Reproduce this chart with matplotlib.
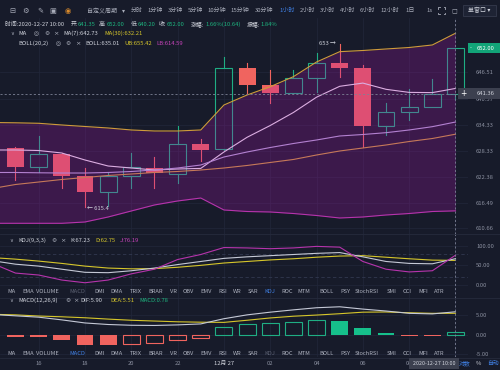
import matplotlib
matplotlib.use('Agg')
import matplotlib.pyplot as plt
import numpy as np
from matplotlib.patches import Rectangle
from matplotlib.lines import Line2D

plt.rcParams['font.family'] = ['Noto Sans CJK SC', 'DejaVu Sans']

# ---------------- data ----------------
hour_labels = ['16', '18', '20', '22', '12月 27', '02', '04', '06', '08']
hour_label_idx = [1, 3, 5, 7, 9, 11, 13, 15, 17]

opens = [628.97, 624.74, 627.66, 622.67, 618.85, 622.67, 624.50, 623.06, 629.89, 628.74,
         647.50, 643.52, 641.75, 645.06, 648.51, 647.50, 634.10, 637.38, 638.39, 641.35]
highs = [629.20, 631.80, 627.90, 624.37, 623.59, 627.82, 627.04, 634.10, 631.04, 650.03,
         648.50, 646.97, 646.97, 650.95, 653.00, 648.12, 639.31, 642.53, 644.83, 652.00]
lows = [621.68, 623.59, 619.77, 615.40, 615.77, 619.91, 619.91, 621.06, 626.12, 628.60,
        641.61, 639.45, 641.60, 641.98, 645.29, 629.20, 632.03, 635.48, 638.39, 640.20]
closes = [624.74, 627.66, 622.67, 618.85, 622.60, 624.60, 623.22, 629.89, 628.58, 647.50,
          643.52, 641.75, 645.06, 648.51, 647.50, 634.10, 637.38, 638.39, 641.45, 652.00]

# indicator series, first value = the hour before the first visible candle
ma7 = [628.58, 628.58, 628.46, 627.89, 626.28, 624.90, 624.44, 623.98, 624.21, 624.35, 628.12,
       631.50, 634.21, 637.20, 640.72, 643.22, 643.96, 642.53, 641.82, 641.77, 642.73]
ma30 = [619.73, 620.65, 621.22, 621.80, 622.26, 622.72, 623.06, 623.41, 623.64, 623.98, 624.44,
        625.02, 625.71, 626.40, 627.43, 628.35, 629.04, 629.73, 630.53, 631.22, 632.21]
boll_mid = [623.41, 623.41, 623.34, 623.29, 623.29, 623.41, 623.64, 623.98, 624.44, 625.13, 626.97,
            628.12, 629.15, 630.07, 630.88, 631.80, 632.14, 632.56, 633.18, 633.94, 635.01]
boll_up = [634.90, 634.83, 634.72, 634.33, 633.98, 633.64, 633.18, 632.95, 632.95, 633.18, 638.92,
           641.22, 643.13, 645.43, 648.81, 651.18, 651.45, 651.80, 652.14, 652.72, 655.42]
boll_lo = [611.73, 611.73, 611.73, 611.73, 612.03, 613.18, 614.56, 615.94, 616.86, 617.54, 614.79,
           614.44, 614.33, 613.98, 613.52, 612.95, 613.18, 613.64, 613.98, 614.44, 614.59]

kdj_k = [62, 53, 48, 40, 32, 31, 36, 43, 52, 60, 68, 72, 75, 78, 81, 83, 72, 60, 55, 54, 67.23]
kdj_d = [70, 66, 61, 55, 48, 43, 41, 41.5, 45, 50, 56, 60, 64, 67, 71, 74, 75, 71, 67, 63.5, 62.75]
kdj_j = [55, 30, 25, 12, 5, 12, 28, 40, 65, 78, 96, 95, 93, 95, 99, 97, 60, 40, 33, 36, 76.19]

dif = [5.20, 4.85, 4.50, 3.80, 3.00, 2.60, 2.40, 2.35, 2.50, 2.75, 4.10,
       5.10, 5.80, 6.40, 6.95, 7.20, 6.60, 6.10, 5.50, 5.35, 5.90]
dea = [5.25, 5.10, 4.80, 4.60, 4.35, 4.00, 3.70, 3.50, 3.30, 3.20, 3.15,
       3.70, 4.30, 4.75, 5.05, 5.40, 5.80, 5.85, 5.65, 5.50, 5.51]
macd_hist = [-0.5, -0.6, -0.6, -1.5, -2.7, -2.7, -2.4, -2.3, -1.5, -0.9, 2.0,
             2.8, 3.0, 3.3, 3.8, 3.6, 1.6, 0.45, -0.3, -0.3, 0.78]

price_ticks = [646.51, 640.37, 634.33, 628.33, 622.38, 616.49, 610.66]

# ---------------- style ----------------
W, H = 500, 370
BG = '#171b2a'
GRID = '#22273a'
RED = '#f0645f'
TEAL = '#1fae84'
GOLD = '#cf9b3c'
MAG = '#b634ac'
TXT = '#a9adba'
VAL = '#d0d3dc'
GRN = '#1db47f'
YEL = '#d6c62b'
MAGT = '#c843bb'
BLUE = '#3f7fe3'
DIM = '#5c6172'
AXT = '#8b90a0'

fig = plt.figure(figsize=(W / 100, H / 100), dpi=100, facecolor=BG)


def fx(x):
    return x / W


def fy(y):
    return 1 - y / H


def ftext(x, y, s, color=TXT, size=4.2, ha='left', va='center', **kw):
    return fig.text(fx(x), fy(y), s, color=color, fontsize=size, ha=ha, va=va, **kw)


def axrect(x0, y0, x1, y1):
    return [x0 / W, 1 - y1 / H, (x1 - x0) / W, (y1 - y0) / H]


def frect(x0, y0, x1, y1, color):
    fig.add_artist(Rectangle((fx(x0), fy(y1)), (x1 - x0) / W, (y1 - y0) / H,
                             transform=fig.transFigure, facecolor=color, edgecolor='none', zorder=5))


def fline(xs, ys, color='#262b3c', lw=0.6, zorder=1):
    fig.add_artist(Line2D([fx(v) for v in xs], [fy(v) for v in ys], transform=fig.transFigure,
                          color=color, lw=lw, zorder=zorder))


def hline(y, x0=0, x1=W, color='#262b3c', lw=0.6):
    fline([x0, x1], [y, y], color=color, lw=lw)


n = len(closes)
xi = np.arange(n)
xl = np.arange(-1, n)
XLIM = (-0.669, 19.54)


def style_ax(ax, ylim, ticks, labels):
    ax.set_facecolor(BG)
    ax.set_xlim(*XLIM)
    ax.set_ylim(*ylim)
    for s in ax.spines.values():
        s.set_visible(False)
    ax.set_xticks([])
    ax.yaxis.set_ticks_position('right')
    ax.set_yticks(ticks)
    ax.set_yticklabels(labels)
    ax.tick_params(axis='y', length=0, pad=5.8, labelsize=4.2, labelcolor=AXT)
    for t in ticks:
        ax.axhline(t, color=GRID, lw=0.5, zorder=0)
    for i in hour_label_idx + [19]:
        ax.axvline(i, color=GRID, lw=0.5, zorder=0)
    ax.axvline(19, color='#7d8296', lw=0.6, ls=(0, (2.5, 2.5)), zorder=7)


# ---------------- main panel ----------------
ax = fig.add_axes(axrect(0, 18, 468, 234))
style_ax(ax, (609.27, 658.92), price_ticks, ['%.2f' % t for t in price_ticks])

cw = 0.73
for i in range(n):
    o, h, l, c = opens[i], highs[i], lows[i], closes[i]
    if c >= o:
        ax.add_patch(Rectangle((i - cw / 2, o), cw, c - o, facecolor='none', edgecolor=TEAL, lw=0.8, zorder=2))
        ax.plot([i, i], [l, o], color=TEAL, lw=0.8, zorder=2)
        ax.plot([i, i], [c, h], color=TEAL, lw=0.8, zorder=2)
    else:
        ax.plot([i, i], [l, h], color=RED, lw=0.8, zorder=2)
        ax.add_patch(Rectangle((i - cw / 2, c), cw, o - c, facecolor=RED, edgecolor='none', zorder=2))

ax.plot(xl, ma7, color='#ece2f2', lw=0.8, zorder=3)
ax.plot(xl, boll_mid, color='#b6a6dc', lw=0.8, zorder=3)
ax.plot(xl, ma30, color=GOLD, lw=0.8, zorder=3)
ax.fill_between(xl, boll_lo, boll_up, color='#ac14b0', alpha=0.25, lw=0, zorder=4)
ax.plot(xl, boll_up, color=GOLD, lw=0.8, zorder=5)
ax.plot(xl, boll_lo, color=MAG, lw=0.8, zorder=5)
ax.axhline(641.36, color='#7d8296', lw=0.6, ls=(0, (2.5, 2.5)), zorder=7)

imax = int(np.argmax(highs))
imin = int(np.argmin(lows))
ax.annotate('%g →' % highs[imax], xy=(imax, highs[imax]), xytext=(-2.5, 0.3), textcoords='offset points',
            ha='right', va='center', color=VAL, fontsize=4.2, zorder=8)
ax.annotate('← %g' % lows[imin], xy=(imin, lows[imin]), xytext=(1.5, -0.6), textcoords='offset points',
            ha='left', va='center', color=VAL, fontsize=4.2, zorder=8)

# ---------------- KDJ panel ----------------
ak = fig.add_axes(axrect(0, 234, 468, 298))
style_ax(ak, (-34.4, 131.0), [100, 50, 0], ['100.00', '50.00', '0.00'])
for lvl in (80, 20):
    ak.axhline(lvl, color='#323850', lw=0.6, ls=(0, (4, 3)), zorder=1)
ak.plot(xl, kdj_d, color=YEL, lw=0.8, zorder=3)
ak.plot(xl, kdj_k, color='#c5c9d6', lw=0.8, zorder=3)
ak.plot(xl, kdj_j, color=MAG, lw=0.8, zorder=3)

# ---------------- MACD panel ----------------
am = fig.add_axes(axrect(0, 298, 468, 357))
style_ax(am, (-5.84, 9.48), [5, 0, -5], ['5.00', '0.00', '-5.00'])
for i in range(n):
    v = macd_hist[i + 1]
    prev = macd_hist[i]
    col = TEAL if v >= 0 else RED
    if v >= 0:
        filled = v < prev
    else:
        filled = v <= prev
    if filled:
        am.add_patch(Rectangle((i - cw / 2, 0), cw, v, facecolor=('#16c08b' if v >= 0 else RED),
                               edgecolor='none', zorder=2))
    else:
        am.add_patch(Rectangle((i - cw / 2, 0), cw, v, facecolor='none', edgecolor=col, lw=0.8, zorder=2))
am.plot(xl, dea, color=YEL, lw=0.8, zorder=3)
am.plot(xl, dif, color='#c5c9d6', lw=0.8, zorder=3)

# separators
hline(234)
hline(298)
hline(357.5)

# ---------------- toolbar ----------------
for x, g, c in [(12.7, '⊟', TXT), (26, '⚙', TXT), (40.7, '✎', TXT), (53.3, '▣', TXT), (67.7, '◉', '#d98a2b')]:
    ftext(x, 10.7, g, color=c, size=5.2, ha='center', family=['DejaVu Sans'])
ftext(86.7, 10.7, '自定义周期', size=4.3)
ftext(123, 10.7, '▾', size=4.3, ha='center', family=['DejaVu Sans'])
tb = [(137, '分时'), (155.5, '1分钟'), (175.5, '3分钟'), (195.5, '5分钟'), (217, '10分钟'), (240, '15分钟'),
      (264, '30分钟'), (287.5, '1小时'), (307.5, '2小时'), (327.5, '3小时'), (347.5, '4小时'),
      (367.5, '6小时'), (390, '12小时'), (410.5, '1日'), (429.5, '1s')]
for x, s in tb:
    ftext(x, 10.7, s, color=(BLUE if s == '1小时' else TXT), size=4.3, ha='center')
# full-screen icon: four corner brackets
cx, cy, r, t = 441.7, 10.7, 3.3, 1.5
for sx in (-1, 1):
    for sy in (-1, 1):
        fline([cx + sx * r, cx + sx * r, cx + sx * (r - t)], [cy + sy * (r - t), cy + sy * r, cy + sy * r],
              color=TXT, lw=0.6, zorder=3)
ftext(454, 10.7, '◻', size=5, ha='center', family=['DejaVu Sans'])
fig.add_artist(Rectangle((fx(463), fy(16)), 33 / W, 11 / H, transform=fig.transFigure,
                         facecolor='#1e2334', edgecolor='#3a3f52', lw=0.5, zorder=5))
ftext(479.5, 10.7, '单窗口 ▾', color=VAL, size=4.3, ha='center', zorder=6)

# ---------------- info line + legends ----------------
segs = [(5, '时间:2020-12-27 10:00', VAL), (70.7, '开:', VAL), (78, '641.35', GRN),
        (99, '高:', VAL), (106.7, '652.00', GRN), (131, '低:', VAL), (138, '640.20', GRN),
        (159, '收:', VAL), (166.7, '652.00', GRN), (190.7, '涨幅:', VAL), (205, '1.66%(10.64)', GRN),
        (247, '振幅:', VAL), (260.5, '1.84%', GRN)]
for x, s, c in segs:
    ftext(x, 24.3, s, color=c, size=4.2)

ftext(12.5, 33.7, '∨', size=3.8, ha='center', family=['DejaVu Sans'])
ftext(18.3, 33.7, 'MA', color=VAL, size=4.2)
ftext(36.7, 33.7, '◎', size=4.2, ha='center', family=['DejaVu Sans'])
ftext(46.7, 33.7, '⚙', size=4.2, ha='center', family=['DejaVu Sans'])
ftext(56, 33.7, '×', size=4.6, ha='center', family=['DejaVu Sans'])
ftext(63.3, 33.7, 'MA(7):642.73', color=VAL, size=4.2)
ftext(104.3, 33.7, 'MA(30):632.21', color=YEL, size=4.2)

ftext(18.3, 43.3, 'BOLL(20,2)', color=VAL, size=4.2)
ftext(58.3, 43.3, '◎', size=4.2, ha='center', family=['DejaVu Sans'])
ftext(67.7, 43.3, '⚙', size=4.2, ha='center', family=['DejaVu Sans'])
ftext(77.7, 43.3, '×', size=4.6, ha='center', family=['DejaVu Sans'])
ftext(85, 43.3, 'BOLL:635.01', color=VAL, size=4.2)
ftext(124, 43.3, 'UB:655.42', color=YEL, size=4.2)
ftext(156.7, 43.3, 'LB:614.59', color=MAGT, size=4.2)

ftext(11, 240.7, '∨', size=3.8, ha='center', family=['DejaVu Sans'])
ftext(18.3, 240.7, 'KDJ(9,3,3)', color=VAL, size=4.2)
ftext(54, 240.7, '⚙', size=4.2, ha='center', family=['DejaVu Sans'])
ftext(62.5, 240.7, '×', size=4.6, ha='center', family=['DejaVu Sans'])
ftext(70.5, 240.7, 'K:67.23', color=VAL, size=4.2)
ftext(95, 240.7, 'D:62.75', color=YEL, size=4.2)
ftext(120, 240.7, 'J:76.19', color=MAGT, size=4.2)

ftext(11, 300.3, '∨', size=3.8, ha='center', family=['DejaVu Sans'])
ftext(18.3, 300.3, 'MACD(12,26,9)', color=VAL, size=4.2)
ftext(67.7, 300.3, '⚙', size=4.2, ha='center', family=['DejaVu Sans'])
ftext(76, 300.3, '×', size=4.6, ha='center', family=['DejaVu Sans'])
ftext(80.7, 300.3, 'DIF:5.90', color=VAL, size=4.2)
ftext(110, 300.3, 'DEA:5.51', color=YEL, size=4.2)
ftext(139, 300.3, 'MACD:0.78', color=GRN, size=4.2)

# ---------------- indicator tab rows ----------------
tabs = ['MA', 'EMA', 'VOLUME', 'MACD', 'DMI', 'DMA', 'TRIX', 'BRAR', 'VR', 'OBV', 'EMV', 'RSI', 'WR',
        'SAR', 'KDJ', 'ROC', 'MTM', 'BOLL', 'PSY', 'StochRSI', 'SMI', 'CCI', 'MFI', 'ATR']
tab_x = [11.7, 28.3, 47.7, 77, 99.2, 116.7, 136, 155.7, 173.3, 188, 206, 222.7, 237.3, 253.3,
         269.7, 287.3, 304, 326, 345, 366.7, 392, 407.3, 423.3, 439.3]
for y, active, dim in [(291.7, 'KDJ', 'MACD'), (353.3, 'MACD', 'KDJ')]:
    for x, s in zip(tab_x, tabs):
        c = BLUE if s == active else (DIM if s == dim else '#aeb2bf')
        ftext(x, y, s, color=c, size=4.1, ha='center')

# ---------------- boxes on the right ----------------
frect(468, 43.3, 500, 53.3, '#12a478')
ftext(471, 48.3, '-', color='white', size=4, ha='center', zorder=6)
ftext(486, 48.3, '652.00', color='white', size=4.2, ha='center', zorder=6)
frect(458, 88.5, 500, 99, '#3c404f')
ftext(463.5, 93.5, '+', color='white', size=5.5, ha='center', family=['DejaVu Sans'], zorder=6)
ftext(486, 93.5, '641.36', color=VAL, size=4.2, ha='center', zorder=6)

# ---------------- date axis ----------------
for i, s in zip(hour_label_idx, hour_labels):
    xp = 15.5 + 23.16 * i
    ftext(xp, 363.3, s, color=(VAL if '月' in s else AXT), size=4.2, ha='center')
frect(409, 357.8, 459, 369, '#3c404f')
ftext(434, 363.3, '2020-12-27 10:00', color=VAL, size=3.9, ha='center', zorder=6)
ftext(464.5, 363.3, '对数', color=BLUE, size=4.2, ha='center')
ftext(478, 363.3, '%', color=VAL, size=4.2, ha='center')
ftext(493, 363.3, '自动', color=BLUE, size=4.2, ha='center')

fig.savefig('out.png', dpi=100, facecolor=BG)
